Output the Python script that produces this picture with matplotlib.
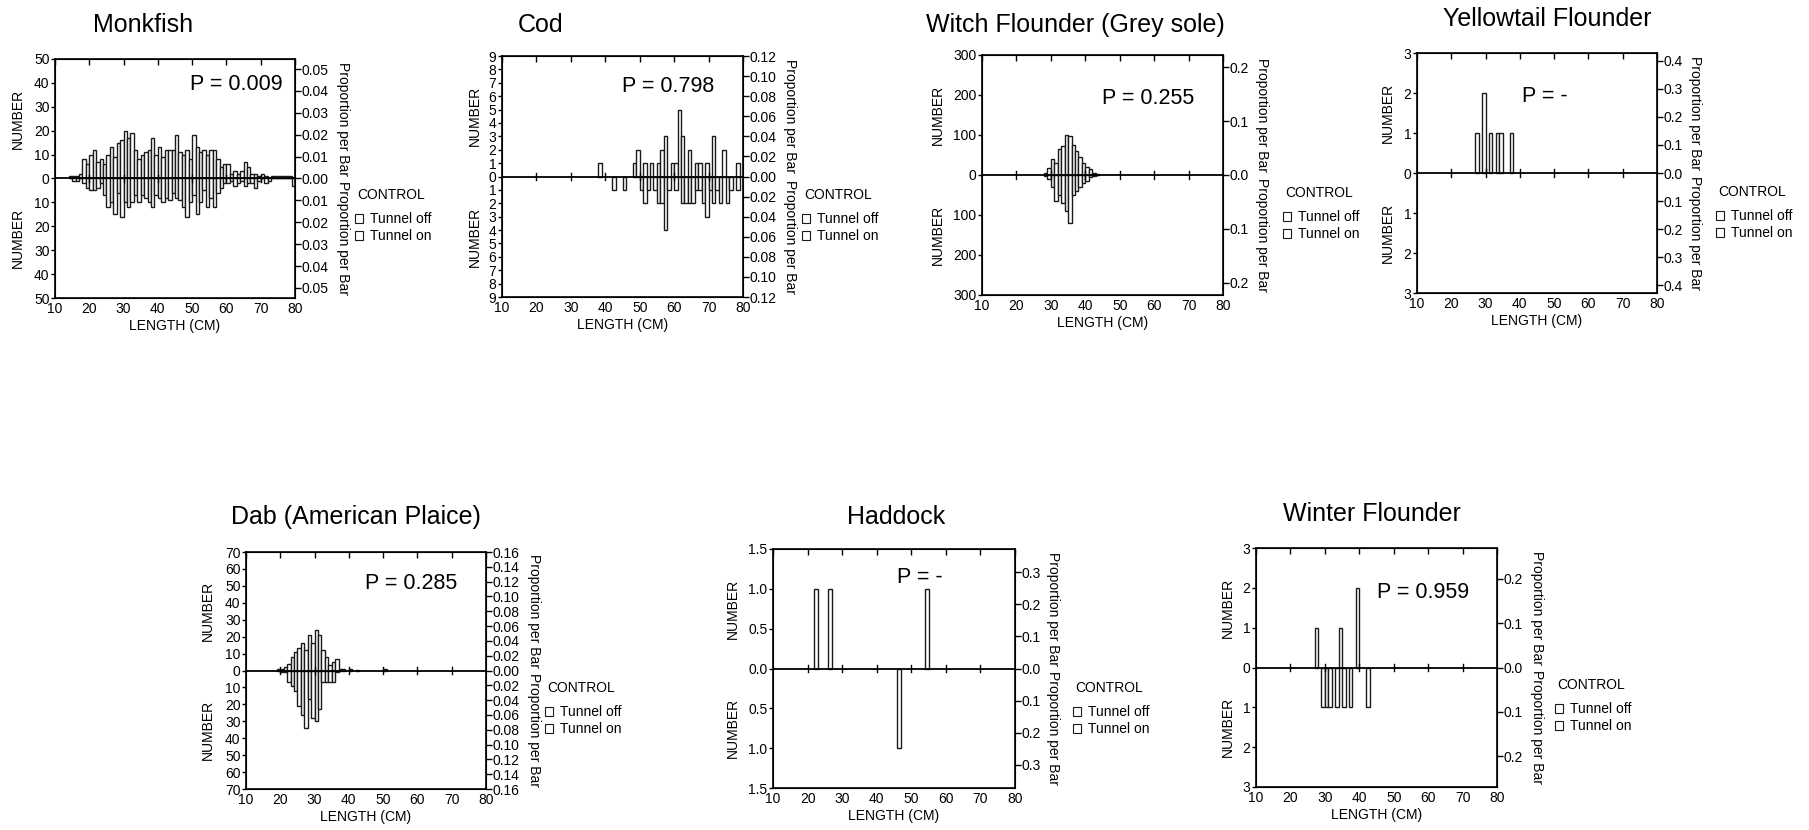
import numpy as np
import matplotlib.pyplot as plt
from matplotlib.patches import Patch
from matplotlib.ticker import FixedLocator, FuncFormatter

plt.rcParams['font.family'] = ['Liberation Sans', 'DejaVu Sans']

W, H = 1809, 830

# ---- data (length in cm, number of fish per 1 cm bar) ----
monk_len = list(range(14, 80))
monk_off = [1, 1, 1, 2, 8, 6, 10, 12, 7, 8,
            6, 10, 13, 9, 15, 16, 20, 17, 19, 12,
            8, 10, 11, 12, 17, 10, 13, 9, 12, 12,
            12, 18, 11, 10, 12, 8, 18, 13, 11, 12,
            10, 12, 12, 8, 5, 6, 6, 2, 3, 2,
            3, 7, 5, 2, 2, 1, 2, 1, 0, 1,
            1, 1, 1, 1, 1, 0]
monk_on = [0, 1, 1, 0, 2, 4, 5, 5, 4, 2,
           7, 12, 10, 15, 6, 16, 10, 12, 10, 7,
           10, 7, 8, 10, 12, 7, 8, 10, 8, 9,
           6, 8, 9, 12, 16, 10, 7, 15, 10, 5,
           12, 8, 12, 6, 4, 2, 2, 1, 3, 2,
           1, 3, 2, 2, 4, 1, 0, 2, 1, 0,
           0, 0, 0, 0, 0, 3]

cod_len_off = [38, 48, 49, 51, 53, 55, 56, 57, 59, 60, 61, 62, 64, 66, 67, 69, 71, 74, 78]
cod_off = [1, 1, 2, 1, 1, 1, 2, 3, 1, 1, 5, 3, 2, 1, 1, 1, 3, 2, 1]
cod_len_on = [42, 45, 50, 51, 52, 54, 55, 56, 57, 58, 60, 62, 63, 64, 65, 66, 67, 68,
              69, 70, 71, 72, 73, 75, 76, 78]
cod_on = [1, 1, 1, 2, 1, 1, 2, 2, 4, 1, 1, 2, 2, 2, 2, 1, 1, 2,
          3, 1, 2, 1, 2, 2, 1, 1]

witch_len = list(range(28, 44))
witch_off = [5, 18, 40, 30, 65, 72, 100, 98, 75, 60, 45, 30, 20, 15, 5, 3]
witch_on = [2, 10, 30, 65, 50, 70, 90, 120, 50, 40, 30, 20, 15, 5, 2, 0]

yt_len_off = [27, 29, 31, 33, 34, 37]
yt_off = [1, 2, 1, 1, 1, 1]
yt_len_on = []
yt_on = []

dab_len_off = [19, 20, 21, 22, 23, 24, 25, 26, 27, 28, 29, 30, 31, 32, 33, 34, 35, 36,
               37, 38, 40, 42, 50]
dab_off = [1, 1, 2, 4, 8, 11, 13, 16, 12, 21, 16, 24, 21, 12, 8, 3, 5, 7,
           1, 1, 1, 0.5, 1]
dab_len_on = [20, 21, 22, 23, 24, 25, 26, 27, 28, 29, 30, 31, 32, 33, 34, 35, 36]
dab_on = [1, 1, 7, 9, 12, 21, 26, 34, 17, 28, 30, 23, 7, 7, 7, 7, 1]

had_len_off = [22, 26, 54]
had_off = [1, 1, 1]
had_len_on = [46]
had_on = [1]

wf_len_off = [27, 34, 39]
wf_off = [1, 1, 2]
wf_len_on = [29, 30, 31, 33, 35, 37, 42]
wf_on = [1, 1, 1, 1, 1, 1, 1]

titles = ['Monkfish', 'Cod', 'Witch Flounder (Grey sole)', 'Yellowtail Flounder',
          'Dab (American Plaice)', 'Haddock', 'Winter Flounder']
p_values = ['P = 0.009', 'P = 0.798', 'P = 0.255', 'P = -', 'P = 0.285', 'P = -', 'P = 0.959']

# y ticks (NUMBER) and right ticks (proportion per bar)
num_ticks = [[0, 10, 20, 30, 40, 50], list(range(10)), [0, 100, 200, 300], [0, 1, 2, 3],
             [0, 10, 20, 30, 40, 50, 60, 70], [0, 0.5, 1.0, 1.5], [0, 1, 2, 3]]
num_fmt = ['{:.0f}', '{:.0f}', '{:.0f}', '{:.0f}', '{:.0f}', '{:.1f}', '{:.0f}']
prop_ticks = [[0, 0.01, 0.02, 0.03, 0.04, 0.05],
              [0, 0.02, 0.04, 0.06, 0.08, 0.10, 0.12],
              [0, 0.1, 0.2], [0, 0.1, 0.2, 0.3, 0.4],
              [0, 0.02, 0.04, 0.06, 0.08, 0.10, 0.12, 0.14, 0.16],
              [0, 0.1, 0.2, 0.3], [0, 0.1, 0.2]]
prop_fmt = ['{:.2f}', '{:.2f}', '{:.1f}', '{:.1f}', '{:.2f}', '{:.1f}', '{:.1f}']
prop_max = [0.0546, 0.12, 0.2227, 0.427, 0.16, 0.372, 0.269]

series = [(monk_len, monk_off, monk_len, monk_on),
          (cod_len_off, cod_off, cod_len_on, cod_on),
          (witch_len, witch_off, witch_len, witch_on),
          (yt_len_off, yt_off, yt_len_on, yt_on),
          (dab_len_off, dab_off, dab_len_on, dab_on),
          (had_len_off, had_off, had_len_on, had_on),
          (wf_len_off, wf_off, wf_len_on, wf_on)]

# ---- layout, in pixels of the 1809x830 figure ----
# axes box: left, top, right, bottom
boxes = [(55, 59, 295, 298), (502, 56, 743, 297), (982, 55, 1223, 295), (1417, 53, 1657, 293),
         (246, 552, 486, 789), (773, 549, 1015, 788), (1256, 548, 1497, 787)]
title_pos = [(143, 32), (541, 32), (1075, 32), (1547, 26), (356, 524), (896, 524), (1372, 521)]
p_pos = [(236, 85), (668, 87), (1148, 98), (1545, 97), (411, 583), (920, 577), (1423, 592)]
# left edge of legend squares, centre of "CONTROL" line
legend_pos = [(355, 195), (802, 195), (1283, 193), (1716, 192), (545, 688), (1073, 688), (1555, 685)]
num_x = [18, 475, 938, 1388, 208, 733, 1228]
prop_x = [343, 790, 1262, 1695, 534, 1053, 1537]


def fx(px):
    return px / W


def fy(py):
    return 1 - py / H


fig = plt.figure(figsize=(W / 100, H / 100), dpi=100)
fs = 10

for i in range(7):
    l, t, r, b = boxes[i]
    ax = fig.add_axes([fx(l), fy(b), (r - l) / W, (b - t) / H])
    ymax = num_ticks[i][-1]
    len_off, off, len_on, on = series[i]

    ax.bar(len_off, off, width=1, align='edge', facecolor='white', edgecolor='#1a1a1a', lw=1)
    ax.bar(len_on, -np.array(on, dtype=float), width=1, align='edge',
           facecolor='white', edgecolor='#1a1a1a', lw=1)
    ax.axhline(0, color='black', lw=1.3)
    ax.set_xlim(10, 80)
    ax.set_ylim(-ymax, ymax)

    xt = list(range(10, 81, 10))
    ax.set_xticks(xt)
    ax.tick_params(axis='x', which='both', bottom=True, top=True, direction='in',
                   length=4, width=1, labelsize=fs, pad=3)
    ax.tick_params(axis='x', bottom=False)
    for xx in xt[1:-1]:
        ax.plot([xx, xx], [-0.03 * ymax, 0.03 * ymax], color='black', lw=1)

    yt = sorted(set([-v for v in num_ticks[i]] + num_ticks[i]))
    ax.yaxis.set_major_locator(FixedLocator(yt))
    ax.yaxis.set_major_formatter(FuncFormatter(lambda v, pos, f=num_fmt[i]: f.format(abs(v))))
    ax.tick_params(axis='y', direction='out', length=3, width=1, labelsize=fs, pad=1)
    ax.set_xlabel('LENGTH (CM)', fontsize=fs, labelpad=2)
    for s in ax.spines.values():
        s.set_linewidth(1.2)

    ax2 = ax.twinx()
    pm = prop_max[i]
    ax2.set_ylim(-pm, pm)
    pt = sorted(set([-v for v in prop_ticks[i]] + prop_ticks[i]))
    ax2.yaxis.set_major_locator(FixedLocator(pt))
    ax2.yaxis.set_major_formatter(FuncFormatter(lambda v, pos, f=prop_fmt[i]: f.format(abs(v))))
    ax2.tick_params(axis='y', direction='out', length=4, width=1, labelsize=fs, pad=1)

    # texts
    mid = (t + b) / 2
    for yc in [(t + mid) / 2, (mid + b) / 2]:
        fig.text(fx(num_x[i]), fy(yc), 'NUMBER', rotation=90, ha='center', va='center',
                 fontsize=fs)
        fig.text(fx(prop_x[i]), fy(yc), 'Proportion per Bar', rotation=270, ha='center',
                 va='center', fontsize=fs)

    tx, ty = title_pos[i]
    fig.text(fx(tx), fy(ty), titles[i], ha='center', va='baseline', fontsize=18)
    px, py = p_pos[i]
    fig.text(fx(px), fy(py), p_values[i], ha='center', va='center', fontsize=15.5)

    lx, ly = legend_pos[i]
    fig.text(fx(lx + 2), fy(ly), 'CONTROL', ha='left', va='center', fontsize=fs)
    handles = [Patch(facecolor='white', edgecolor='#1a1a1a', lw=0.8),
               Patch(facecolor='white', edgecolor='#1a1a1a', lw=0.8)]
    ax.legend(handles, ['Tunnel off', 'Tunnel on'], loc='upper left',
              bbox_to_anchor=(fx(lx), fy(ly + 17)), bbox_transform=fig.transFigure,
              frameon=False, fontsize=fs,
              handlelength=0.6, handleheight=0.6, handletextpad=0.5, borderpad=0,
              borderaxespad=0, labelspacing=0.25)

fig.savefig('out.png', dpi=100)
